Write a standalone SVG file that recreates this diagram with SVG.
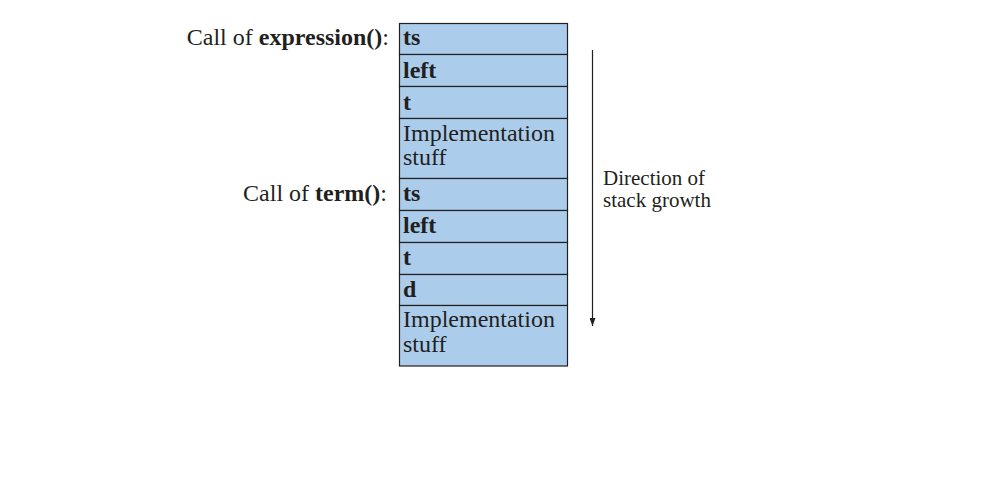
<svg xmlns="http://www.w3.org/2000/svg" width="991" height="479" viewBox="0 0 991 479">
<defs>
<style>
.cell{fill:#abcdeb;stroke:#231f20;stroke-width:1.2}
.t{font-family:"Liberation Serif",serif;font-size:24px;fill:#231f20}
.b{font-weight:bold}
.s{font-family:"Liberation Serif",serif;font-size:21px;fill:#231f20}
</style>
<marker id="ah" viewBox="0 0 8 6" refX="8" refY="3" markerWidth="8" markerHeight="6" markerUnits="userSpaceOnUse" orient="auto">
<path d="M0,0 L8,3 L0,6 Z" fill="#231f20"/>
</marker>
</defs>
<rect width="991" height="479" fill="#ffffff"/>
<g id="labels">
<text class="t" x="389" y="45" text-anchor="end">Call of <tspan class="b">expression</tspan><tspan class="b">()</tspan>:</text>
<text class="t" x="387" y="201" text-anchor="end">Call of <tspan class="b">term</tspan><tspan class="b">()</tspan>:</text>
</g>
<g id="stack">
<g id="cell-ts1"><rect class="cell" x="399.5" y="23.5" width="168" height="31"/><text class="t b" x="403" y="45">ts</text></g>
<g id="cell-left1"><rect class="cell" x="399.5" y="54.5" width="168" height="32"/><text class="t b" x="403" y="78">left</text></g>
<g id="cell-t1"><rect class="cell" x="399.5" y="86.5" width="168" height="32"/><text class="t b" x="403" y="110">t</text></g>
<g id="cell-impl1"><rect class="cell" x="399.5" y="118.5" width="168" height="60"/><text class="t" x="403" y="141">Implementation</text><text class="t" x="403" y="165">stuff</text></g>
<g id="cell-ts2"><rect class="cell" x="399.5" y="178.5" width="168" height="32"/><text class="t b" x="403" y="201">ts</text></g>
<g id="cell-left2"><rect class="cell" x="399.5" y="210.5" width="168" height="32"/><text class="t b" x="403" y="233">left</text></g>
<g id="cell-t2"><rect class="cell" x="399.5" y="242.5" width="168" height="32"/><text class="t b" x="403" y="265">t</text></g>
<g id="cell-d"><rect class="cell" x="399.5" y="274.5" width="168" height="31"/><text class="t b" x="403" y="297">d</text></g>
<g id="cell-impl2"><rect class="cell" x="399.5" y="305.5" width="168" height="60.5"/><text class="t" x="403" y="327">Implementation</text><text class="t" x="403" y="352">stuff</text></g>
</g>
<g id="connectors">
<line x1="592.5" y1="50" x2="592.5" y2="326" stroke="#231f20" stroke-width="1.2" marker-end="url(#ah)"/>
</g>
<g id="direction-label">
<text class="s" x="603" y="185">Direction of</text>
<text class="s" x="603" y="207">stack growth</text>
</g>
</svg>
